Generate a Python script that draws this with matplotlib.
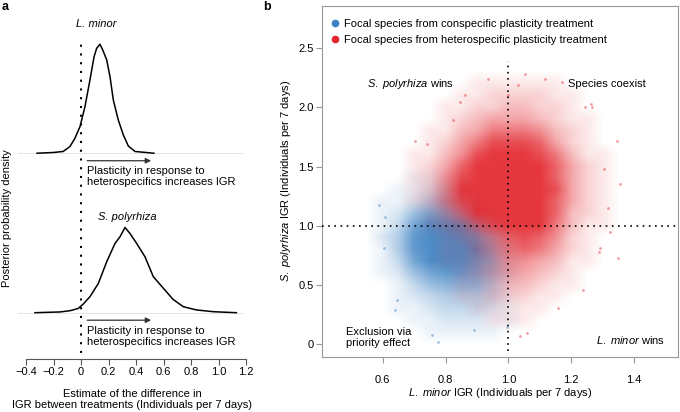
"""
Two-panel figure: (a) posterior densities of the plasticity effect on IGR,
(b) joint posterior of L. minor / S. polyrhiza IGR for both treatments.
"""

import numpy as np
import matplotlib
matplotlib.use('Agg')
import matplotlib.pyplot as plt
import matplotlib.colors as mcolors
from matplotlib.lines import Line2D

plt.rcParams['font.family'] = ['Liberation Sans', 'DejaVu Sans']
plt.rcParams['mathtext.fontset'] = 'custom'
plt.rcParams['mathtext.rm'] = 'Liberation Sans'
plt.rcParams['mathtext.it'] = 'Liberation Sans:italic'

FS = 8
BLUE = '#3a80c2'
RED = '#e3262d'

# ---- panel a: posterior densities
lminor_x = [-0.32, -0.20, -0.13, -0.08, -0.044, -0.007, 0.029, 0.065, 0.095, 0.114,
            0.138, 0.158, 0.187, 0.211, 0.235, 0.271, 0.308, 0.344, 0.393, 0.53]
lminor_dens = [0, 0.03, 0.07, 0.27, 0.60, 1.07, 1.87, 2.93, 3.86, 4.20,
               4.36, 4.13, 3.73, 3.06, 2.13, 1.33, 0.73, 0.29, 0.07, 0]
spoly_x = [-0.335, -0.153, -0.08, -0.02, 0.017, 0.065, 0.126, 0.187, 0.247, 0.284, 0.32,
           0.356, 0.405, 0.465, 0.526, 0.60, 0.67, 0.744, 0.84, 0.962, 1.13]
spoly_dens = [0, 0.03, 0.08, 0.17, 0.35, 0.64, 1.17, 2.04, 2.77, 3.04, 3.41,
              3.17, 2.77, 2.24, 1.44, 0.97, 0.53, 0.24, 0.11, 0.04, 0]
a_ticks = [-0.4, -0.2, 0, 0.2, 0.4, 0.6, 0.8, 1.0, 1.2]
a_ticklabels = ['\u22120.4', '\u22120.2', '0', '0.2', '0.4', '0.6', '0.8', '1.0', '1.2']

# ---- panel b: point-cloud density on a grid (0 = empty, 9 = saturated)
red_cols = [0.60, 0.65, 0.70, 0.75, 0.80, 0.85, 0.90, 0.95, 1.00, 1.05, 1.10, 1.15,
            1.20, 1.25, 1.30, 1.35, 1.40]
red_rows = [2.3, 2.2, 2.1, 2.0, 1.9, 1.8, 1.7, 1.6, 1.5, 1.4, 1.3, 1.2, 1.1, 1.0,
            0.9, 0.8, 0.7, 0.6, 0.5, 0.4, 0.3, 0.2, 0.1]
red_density = [
    [0, 0, 0, 0, 0, 0, 0, 0, 0, 0, 0, 0, 0, 0, 0, 0, 0],
    [0, 0, 0, 0, 0, 0, 1, 1, 1, 1, 1, 1, 0, 0, 0, 0, 0],
    [0, 0, 0, 0, 0, 1, 1, 2, 2, 2, 2, 1, 1, 0, 0, 0, 0],
    [0, 0, 0, 0, 1, 1, 2, 2, 3, 3, 2, 2, 1, 0, 0, 0, 0],
    [0, 0, 0, 0, 1, 2, 3, 4, 4, 4, 3, 2, 1, 1, 0, 0, 0],
    [0, 0, 0, 1, 1, 3, 4, 6, 6, 6, 5, 3, 2, 1, 0, 0, 0],
    [0, 0, 0, 1, 2, 4, 6, 8, 8, 8, 7, 4, 2, 1, 0, 0, 0],
    [0, 0, 1, 1, 3, 5, 8, 9, 9, 9, 8, 6, 3, 1, 1, 0, 0],
    [0, 0, 1, 2, 4, 7, 9, 9, 9, 9, 9, 7, 4, 2, 1, 0, 0],
    [0, 0, 1, 2, 5, 8, 9, 9, 9, 9, 9, 7, 4, 2, 1, 0, 0],
    [0, 0, 1, 2, 5, 9, 9, 9, 9, 9, 9, 8, 4, 2, 1, 0, 0],
    [0, 0, 1, 2, 5, 8, 9, 9, 9, 9, 9, 7, 4, 2, 1, 0, 0],
    [0, 0, 0, 1, 3, 6, 9, 9, 9, 9, 9, 7, 3, 2, 1, 0, 0],
    [0, 0, 0, 1, 2, 3, 6, 8, 9, 9, 9, 6, 3, 1, 1, 0, 0],
    [0, 0, 0, 0, 1, 2, 3, 5, 7, 8, 7, 5, 2, 1, 0, 0, 0],
    [0, 0, 0, 0, 1, 1, 3, 4, 6, 7, 6, 4, 2, 1, 0, 0, 0],
    [0, 0, 0, 0, 1, 1, 2, 3, 5, 5, 4, 3, 1, 1, 0, 0, 0],
    [0, 0, 0, 0, 0, 1, 2, 3, 4, 4, 3, 2, 1, 0, 0, 0, 0],
    [0, 0, 0, 0, 0, 1, 1, 2, 3, 3, 2, 1, 1, 0, 0, 0, 0],
    [0, 0, 0, 0, 0, 1, 1, 2, 2, 2, 1, 1, 0, 0, 0, 0, 0],
    [0, 0, 0, 0, 0, 0, 1, 1, 1, 1, 1, 0, 0, 0, 0, 0, 0],
    [0, 0, 0, 0, 0, 0, 0, 1, 1, 1, 0, 0, 0, 0, 0, 0, 0],
    [0, 0, 0, 0, 0, 0, 0, 0, 0, 0, 0, 0, 0, 0, 0, 0, 0],
]
blue_cols = [0.55, 0.60, 0.65, 0.70, 0.75, 0.80, 0.85, 0.90, 0.95, 1.00, 1.05]
blue_rows = [1.5, 1.4, 1.3, 1.2, 1.1, 1.0, 0.9, 0.8, 0.7, 0.6, 0.5, 0.4, 0.3, 0.2, 0.1, 0.0]
blue_density = [
    [0, 0, 0, 0, 0, 0, 0, 0, 0, 0, 0],
    [0, 0, 0, 1, 1, 1, 1, 0, 0, 0, 0],
    [0, 0, 1, 1, 2, 3, 2, 1, 0, 0, 0],
    [0, 1, 1, 2, 4, 5, 4, 3, 1, 0, 0],
    [0, 1, 2, 5, 7, 7, 6, 5, 2, 1, 0],
    [0, 1, 3, 7, 9, 9, 9, 7, 4, 1, 0],
    [0, 2, 4, 8, 9, 9, 9, 8, 5, 2, 0],
    [0, 1, 4, 8, 9, 9, 9, 9, 6, 2, 0],
    [0, 1, 3, 7, 9, 9, 9, 8, 6, 2, 0],
    [0, 1, 2, 5, 7, 8, 8, 7, 5, 2, 0],
    [0, 0, 1, 3, 5, 6, 6, 6, 4, 1, 0],
    [0, 0, 1, 2, 3, 4, 4, 4, 3, 1, 0],
    [0, 0, 1, 1, 2, 3, 3, 3, 2, 1, 0],
    [0, 0, 0, 1, 1, 2, 2, 2, 1, 1, 0],
    [0, 0, 0, 0, 1, 1, 1, 1, 1, 0, 0],
    [0, 0, 0, 0, 0, 0, 0, 0, 0, 0, 0],
]
# isolated points at the edges of the clouds
red_out_x = [0.936, 1.053, 1.117, 0.998, 1.031, 0.846, 0.862, 0.703, 0.740, 1.170, 0.825,
             1.345, 1.356, 1.350, 1.266, 1.239, 1.303, 1.318, 1.292, 1.244, 1.263, 1.324,
             1.287, 1.159, 1.059, 1.037]
red_out_y = [2.243, 2.285, 2.237, 2.108, 2.190, 2.046, 2.108, 1.720, 1.695, 2.214, 1.890,
             1.720, 1.357, 0.725, 2.000, 0.458, 1.484, 1.147, 0.810, 2.000, 2.030, 0.950,
             0.780, 0.306, 0.095, 0.070]
blue_out_x = [0.589, 0.639, 0.645, 0.756, 0.777, 0.604, 0.607, 0.995, 0.889]
blue_out_y = [1.175, 0.289, 0.375, 0.078, 0.022, 0.810, 1.076, 0.149, 0.120]
b_xticks = [0.6, 0.8, 1.0, 1.2, 1.4]
b_yticks = [0, 0.5, 1.0, 1.5, 2.0, 2.5]
b_yticklabels = ['0', '0.5', '1.0', '1.5', '2.0', '2.5']


def density_image(ax, grid, cols, rows, color, max_alpha):
    d = np.array(grid, dtype=float) / 9.0
    rgba = np.zeros(d.shape + (4,))
    rgba[..., :3] = mcolors.to_rgb(color)
    rgba[..., 3] = max_alpha * d
    dx = cols[1] - cols[0]
    dy = rows[0] - rows[1]
    extent = [cols[0] - dx / 2, cols[-1] + dx / 2, rows[-1] - dy / 2, rows[0] + dy / 2]
    ax.imshow(rgba, extent=extent, origin='upper', aspect='auto',
              interpolation='bilinear', zorder=1)


fig = plt.figure(figsize=(6.8, 4.12), dpi=100)

# ================= panel a
W, H = 680.0, 412.0
axa = fig.add_axes([15 / W, 1 - 359 / H, (250 - 15) / W, (359 - 15) / H])
top_base = 6.38  # baseline of upper (L. minor) curve
axa.set_xlim(-0.48, 1.229)
axa.set_ylim(-1.852, 11.91)

for base in (top_base, 0):
    axa.plot([-0.46, 1.18], [base, base], color='#e2e2e2', lw=0.6, zorder=1)
axa.plot(lminor_x, np.array(lminor_dens) + top_base, color='black', lw=1.1, zorder=3)
axa.plot(spoly_x, spoly_dens, color='black', lw=1.1, zorder=3)
axa.plot([0, 0], [-1.61, 10.9], color='black', lw=1.5,
         linestyle=(0, (1, 3.2)), zorder=2)

for base in (top_base, 0):
    axa.annotate('', xy=(0.51, base - 0.3), xytext=(0.045, base - 0.3),
                 arrowprops=dict(arrowstyle='-|>', color='#333333', lw=0.9,
                                 mutation_scale=8, shrinkA=0, shrinkB=0))
    axa.text(0.045, base - 0.52, 'Plasticity in response to\nheterospecifics increases IGR',
             fontsize=FS, ha='left', va='top', linespacing=1.1)

axa.text(0.114, 11.55, 'L. minor', fontsize=FS, style='italic', ha='center', va='center')
axa.text(0.335, 3.84, 'S. polyrhiza', fontsize=FS, style='italic', ha='center', va='center')

for side in ('left', 'right', 'top'):
    axa.spines[side].set_visible(False)
axa.spines['bottom'].set_bounds(-0.4, 1.2)
axa.spines['bottom'].set_color('#555555')
axa.spines['bottom'].set_linewidth(0.8)
axa.set_yticks([])
axa.set_xticks(a_ticks)
axa.set_xticklabels(a_ticklabels)
axa.tick_params(axis='x', labelsize=FS, length=4, width=0.8, color='#555555', pad=2)
axa.set_xlabel('Estimate of the difference in\nIGR between treatments (Individuals per 7 days)',
               fontsize=FS, labelpad=8.5, linespacing=1.15)
fig.text(7 / W, 1 - 218 / H, 'Posterior probability density', fontsize=FS,
         rotation=90, ha='center', va='center')

# ================= panel b
axb = fig.add_axes([322 / W, 1 - 357 / H, (678 - 322) / W, (357 - 5.7) / H])

density_image(axb, blue_density, blue_cols, blue_rows, BLUE, 0.9)
density_image(axb, red_density, red_cols, red_rows, RED, 0.92)
axb.scatter(blue_out_x, blue_out_y, s=4, color=BLUE, alpha=0.45, lw=0, zorder=2)
axb.scatter(red_out_x, red_out_y, s=4, color=RED, alpha=0.45, lw=0, zorder=2)

axb.set_xlim(0.4067, 1.540)
axb.set_ylim(-0.107, 2.859)
axb.plot([1.0, 1.0], [-0.06, 2.39], color='black', lw=1.2,
         linestyle=(0, (1, 2.7)), zorder=4)
axb.axhline(1.0, color='black', lw=1.2, linestyle=(0, (1, 2.7)), zorder=4)

axb.text(0.55, 2.2, r'$\it{S.\ polyrhiza}$ wins', fontsize=FS, ha='left', va='center')
axb.text(1.19, 2.2, 'Species coexist', fontsize=FS, ha='left', va='center')
axb.text(0.483, 0.056, 'Exclusion via\npriority effect', fontsize=FS, ha='left',
         va='center', linespacing=1.1)
axb.text(1.497, 0.036, r'$\it{L.\ minor}$ wins', fontsize=FS, ha='right', va='center')

handles = [Line2D([], [], marker='o', ls='', color=BLUE, ms=4.5),
           Line2D([], [], marker='o', ls='', color=RED, ms=4.5)]
axb.legend(handles, ['Focal species from conspecific plasticity treatment',
                     'Focal species from heterospecific plasticity treatment'],
           loc='upper left', bbox_to_anchor=(0.028, 0.962), frameon=False,
           fontsize=FS, handlelength=0.6, handletextpad=0.5, labelspacing=0.55,
           borderaxespad=0, borderpad=0)

for sp in axb.spines.values():
    sp.set_color('#999999')
    sp.set_linewidth(0.8)
axb.set_xticks(b_xticks)
axb.set_xticklabels(['0.6', '0.8', '1.0', '1.2', '1.4'])
axb.set_yticks(b_yticks)
axb.set_yticklabels(b_yticklabels)
axb.tick_params(axis='both', labelsize=FS, length=4, width=0.8, color='#999999')
axb.tick_params(axis='x', pad=9)
axb.tick_params(axis='y', pad=2)
axb.set_xlabel(r'$\it{L.\ minor}$ IGR (Individuals per 7 days)', fontsize=FS, labelpad=0.5)
axb.set_ylabel(r'$\it{S.\ polyrhiza}$ IGR (Individuals per 7 days)', fontsize=FS, labelpad=4)

fig.text(2 / W, 1 - 7 / H, 'a', fontsize=9, fontweight='bold', ha='left', va='center')
fig.text(263 / W, 1 - 7 / H, 'b', fontsize=9, fontweight='bold', ha='left', va='center')

fig.savefig('out.png', dpi=100)
